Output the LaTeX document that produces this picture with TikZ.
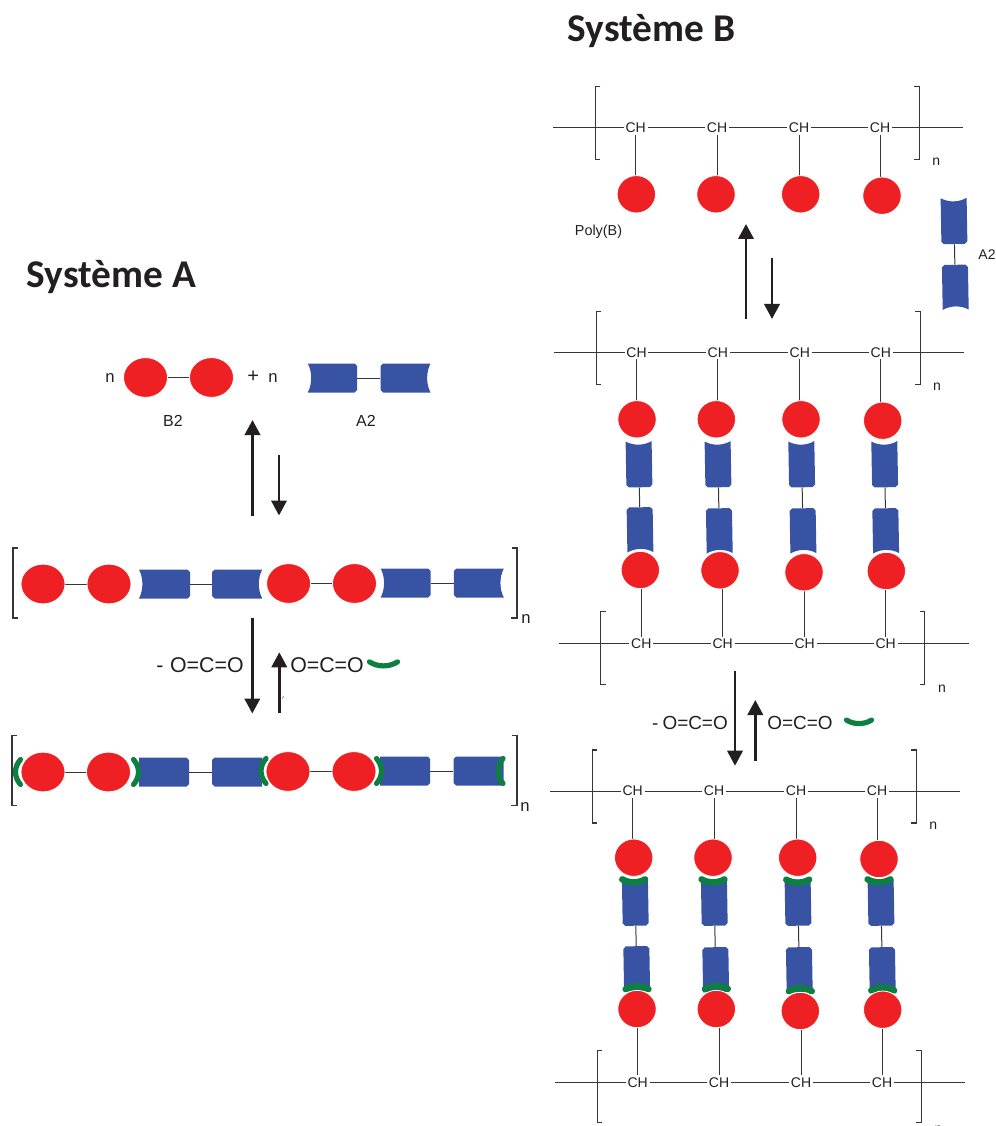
\documentclass[tikz,border=0pt]{standalone}
\usepackage{fontspec}
\setmainfont{Liberation Sans}
\newfontfamily\titlefont{Carlito}
\usetikzlibrary{arrows.meta,shapes.geometric,backgrounds}
\definecolor{rdc}{HTML}{EE2024}
\definecolor{blc}{HTML}{3953A4}
\definecolor{grc}{HTML}{0C8040}
\definecolor{ink}{HTML}{231F20}
\tikzset{
  bond/.style={draw=ink!90,line width=0.75pt},
  brk/.style={draw=ink!90,line width=0.85pt},
  rxn/.style={draw=ink,line width=2pt,-{Triangle[width=11.5pt,length=11.25pt]}},
  redA/.style={ellipse,fill=rdc,draw=white,line width=0.6pt,minimum width=33pt,minimum height=29.8pt,inner sep=0pt},
  redB/.style={ellipse,fill=rdc,draw=white,line width=0.6pt,minimum width=28.8pt,minimum height=28pt,inner sep=0pt},
  txtS/.style={font=\fontsize{10.5pt}{12pt}\selectfont,text=ink,inner sep=1.2pt},
  txtP/.style={font=\fontsize{10.8pt}{12pt}\selectfont,text=ink,inner sep=0pt},
  txtM/.style={font=\fontsize{12pt}{14pt}\selectfont,text=ink,inner sep=0pt},
  txtN/.style={font=\fontsize{12.5pt}{14pt}\selectfont,text=ink,inner sep=0pt},
  txtB/.style={font=\fontsize{14.2pt}{16pt}\selectfont,text=ink,inner sep=0pt},
  txtC/.style={font=\fontsize{16pt}{18pt}\selectfont,text=ink,inner sep=0pt},
  ttl/.style={font=\titlefont\bfseries\fontsize{29.5pt}{32pt}\selectfont,text=ink,inner sep=0pt},
  grn/.style={draw=grc,line width=3.9pt,line cap=round}
}
% blue block, hollow end towards local +x
\newcommand{\bluc}[6]{%
  \node[rectangle,inner sep=0pt,minimum width=#5*1.5pt,minimum height=#6*1.5pt,rotate=#4] (#1) at (#2,#3) {};
  \begin{scope}[shift={(#2,#3)},rotate=#4]
    \fill[blc] (-#5+2.5,-#6) -- (#5,-#6) .. controls (#5-4.5,-#6*0.4) and (#5-4.5,#6*0.4) .. (#5,#6)
       -- (-#5+2.5,#6) -- (-#5,#6-2.5) -- (-#5,-#6+2.5) -- cycle;
  \end{scope}}
% blue block with flat ends
\newcommand{\blup}[6]{%
  \node[rectangle,inner sep=0pt,minimum width=#5*1.5pt,minimum height=#6*1.5pt,rotate=#4] (#1) at (#2,#3) {};
  \begin{scope}[shift={(#2,#3)},rotate=#4]
    \fill[blc] (-#5+2.5,-#6) -- (#5,-#6) -- (#5,#6)
       -- (-#5+2.5,#6) -- (-#5,#6-2.5) -- (-#5,-#6+2.5) -- cycle;
  \end{scope}}
% green cap: smile at angle 0; x, y, angle, half length, sag
\newcommand{\capg}[5]{%
  \begin{scope}[shift={(#1,#2)},rotate=#3]
    \draw[grn] (-#4,-#5*0.4) .. controls (-#4*0.4,#5*0.93) and (#4*0.4,#5*0.93) .. (#4,-#5*0.4);
  \end{scope}}
% polymer backbone: prefix, x offset, y, bracket top offset, bracket bottom offset, n offset
\newcommand{\polyrow}[6]{%
  \coordinate (#1L) at (553+#2,#3);
  \coordinate (#1R) at (963+#2,#3);
  \node[txtS] (#11) at (635.7+#2,#3) {CH};
  \node[txtS] (#12) at (717+#2,#3) {CH};
  \node[txtS] (#13) at (799+#2,#3) {CH};
  \node[txtS] (#14) at (880+#2,#3) {CH};
  \draw[bond] (#1L) -- (#11) -- (#12) -- (#13) -- (#14) -- (#1R);
  \draw[brk] (600.3+#2,#3-#4) -- (595.3+#2,#3-#4) -- (595.3+#2,#3+#5) -- (600.3+#2,#3+#5);
  \draw[brk] (914.3+#2,#3-#4) -- (919.3+#2,#3-#4) -- (919.3+#2,#3+#5) -- (914.3+#2,#3+#5);
  \node[txtS,inner sep=0pt] (#1n) at (936.3+#2,#3+#6) {n};}
% long bracket of system A
\newcommand{\brackA}[3]{%
  \draw[brk] (#1+5,#2) -- (#1,#2) -- (#1,#3) -- (#1+5,#3);
  \draw[brk] (512,#2) -- (517,#2) -- (517,#3) -- (511,#3);}
\begin{document}
\begin{tikzpicture}[x=0.75pt,y=-0.75pt]
\useasboundingbox (0,0) rectangle (995,1126);

%% ---------- Titles
\node[ttl] (ta) at (111.5,277) {Système A};
\node[ttl] (tb) at (651.5,31) {Système B};

%% ---------- System A, reagents
\node[txtN] (na) at (110,378) {n};
\node[redA] (a1) at (145.5,377.5) {};
\node[redA] (a2) at (211.5,377.5) {};
\node[txtN] (pl) at (262.5,377) {{\fontsize{15pt}{16pt}\selectfont +}\hspace{7pt}n};
\bluc{a3}{332.5}{378}{180}{24.7}{14.5}
\bluc{a4}{405.5}{378}{0}{25}{14.5}
\node[txtM] (b2) at (173,421) {B2};
\node[txtM] (a2l) at (366,421) {A2};

\coordinate (u1s) at (252.5,516);\coordinate (u1e) at (252.5,420);
\coordinate (d1s) at (279,455);\coordinate (d1e) at (279,515.5);
\draw[rxn] (u1s) -- (u1e);
\draw[rxn] (d1s) -- (d1e);

%% ---------- System A, polymer
\brackA{13}{548}{618}
\node[txtN] (nb) at (526,619.5) {n};
\bluc{b3}{164.5}{584}{180}{25.5}{14.5}
\bluc{b4}{237.2}{584}{0}{25}{14.5}
\bluc{b7}{405.7}{583}{180}{25}{14.5}
\bluc{b8}{478.8}{583}{0}{25}{14.5}
\node[redA] (b1) at (43,584) {};
\node[redA] (b2n) at (109,584) {};
\node[redA] (b5) at (288.6,583.5) {};
\node[redA] (b6) at (354.5,583.5) {};

%% ---------- System A, CO2 step
\coordinate (d2s) at (252.3,618.3);\coordinate (d2e) at (252.3,713.5);
\coordinate (u2s) at (279.3,713);\coordinate (u2e) at (279.3,652.3);
\draw[rxn] (d2s) -- (d2e);
\draw[rxn] (u2s) -- (u2e);
\node[txtC] (co1) at (200,665) {-\hspace{5pt}O=C=O};
\node[txtC] (co2) at (327,665) {O=C=O};
\capg{383.5}{663.5}{0}{14}{4}
\draw[ink,line width=0.4pt] (283.4,696.4) -- (282.6,698.2);

%% ---------- System A, capped polymer
\brackA{12}{735.7}{805.7}
\node[txtN] (nc) at (525,807) {n};
\blup{c3}{164}{772}{180}{25}{14.5}
\blup{c4}{237.2}{772}{0}{25}{14.5}
\blup{c7}{405}{771}{180}{25}{14.5}
\blup{c8}{478.6}{771}{0}{25}{14.5}
\capg{18.5}{772}{-90}{12.5}{5}
\capg{135.5}{772}{90}{12.5}{5}
\capg{264}{771}{-90}{12.5}{5}
\capg{378.5}{771}{90}{12.5}{5}
\capg{501}{771}{-90}{12.5}{5}
\node[redA] (c1) at (43,772) {};
\node[redA] (c2) at (108.5,772) {};
\node[redA] (c5) at (288,771.5) {};
\node[redA] (c6) at (354,771.5) {};

%% ---------- System B, row 1
\polyrow{p}{0}{127.7}{41}{32}{34.5}
\node[redB] (r1) at (636.3,194.3) {};
\node[redB] (r2) at (716,194.3) {};
\node[redB] (r3) at (800.7,194.3) {};
\node[redB] (r4) at (882,195.7) {};
\node[txtP] (pb) at (598.5,231.7) {Poly(B)};
\bluc{fa}{954}{221}{91}{23}{13}
\bluc{fb}{955.3}{287.3}{-89}{22.5}{13}
\node[txtS,inner sep=0pt] (fal) at (987,254.5) {A2};

\coordinate (u3s) at (746,319);\coordinate (u3e) at (746,224);
\coordinate (d3s) at (772,258);\coordinate (d3e) at (772,319);
\draw[rxn] (u3s) -- (u3e);
\draw[rxn] (d3s) -- (d3e);

%% ---------- System B, crosslinked
\polyrow{q}{0.8}{352.3}{41}{32}{34.5}
\polyrow{s}{5.6}{643.7}{32}{40.6}{45}
\foreach \i/\xa/\xb/\xc/\xd/\ya/\yb/\yc in {
  1/637/639/640/640.3/419.3/529.8/570,
  2/716.3/718/719.3/720/419.3/530.8/570.3,
  3/801/801.7/803/804/419.3/530.8/572.3,
  4/882.7/884.7/885.7/886.3/420.7/530.8/571}{
  \bluc{u\i}{\xb}{464.3}{91}{23}{13}
  \bluc{v\i}{\xc}{\yb}{-89}{22.5}{13}
  \node[redB] (w\i) at (\xa,\ya) {};
  \node[redB] (x\i) at (\xd,\yc) {};
}

\coordinate (d4s) at (735,670.7);\coordinate (d4e) at (735,765.7);
\coordinate (u4s) at (755.3,760.7);\coordinate (u4e) at (755.3,700);
\draw[rxn] (d4s) -- (d4e);
\draw[rxn] (u4s) -- (u4e);
\node[txtB] (co3) at (690,722.7) {-\hspace{3pt}O=C=O};
\node[txtB] (co4) at (800,722.7) {O=C=O};
\capg{859}{721.5}{0}{12.5}{3.5}

%% ---------- System B, capped
\polyrow{t}{-3}{791}{41}{32}{35}
\polyrow{y}{2}{1082.3}{32}{40}{47}
\begin{scope}[grn/.append style={line width=4.8pt}]
\foreach \i/\xa/\xb/\xc/\xd/\ya/\yb/\yc/\gt/\gb in {
  1/633.7/635.3/636.7/637/857.7/968.7/1009/880.5/988,
  2/713/714.3/715.7/716.3/857.7/969.7/1009/880.5/987.7,
  3/797.7/798/799.3/800.3/857.7/969.7/1011/880.8/990,
  4/879/881/882.3/882.7/859/969.7/1009.7/880.5/989.3}{
  \blup{e\i}{\xb}{902.7}{91}{23}{13}
  \blup{f\i}{\xc}{\yb}{-89}{22.5}{13}
  \capg{\xa}{\gt}{0}{11.5}{3}
  \capg{\xd}{\gb}{180}{11.5}{3}
  \node[redB] (g\i) at (\xa,\ya) {};
  \node[redB] (h\i) at (\xd,\yc) {};
}
\end{scope}

%% ---------- Connectors, under everything else
\begin{pgfonlayer}{background}
  \draw[bond] (a1) -- (a2);
  \draw[bond] (a3) -- (a4);
  \draw[bond] (b1) -- (b2n);
  \draw[bond] (b3) -- (b4);
  \draw[bond] (b5) -- (b6);
  \draw[bond] (b7) -- (b8);
  \draw[bond] (c1) -- (c2);
  \draw[bond] (c3) -- (c4);
  \draw[bond] (c5) -- (c6);
  \draw[bond] (c7) -- (c8);
  \draw[bond] (fa) -- (fb);
  \foreach \i in {1,2,3,4}{
    \draw[bond] (p\i.south) -- (p\i.south |- r\i.center);
    \draw[bond] (q\i.south) -- (q\i.south |- w\i.center);
    \draw[bond] (u\i) -- (v\i);
    \draw[bond] (s\i.north) -- (s\i.north |- x\i.center);
    \draw[bond] (t\i.south) -- (t\i.south |- g\i.center);
    \draw[bond] (e\i) -- (f\i);
    \draw[bond] (y\i.north) -- (y\i.north |- h\i.center);
  }
\end{pgfonlayer}
\end{tikzpicture}
\end{document}
